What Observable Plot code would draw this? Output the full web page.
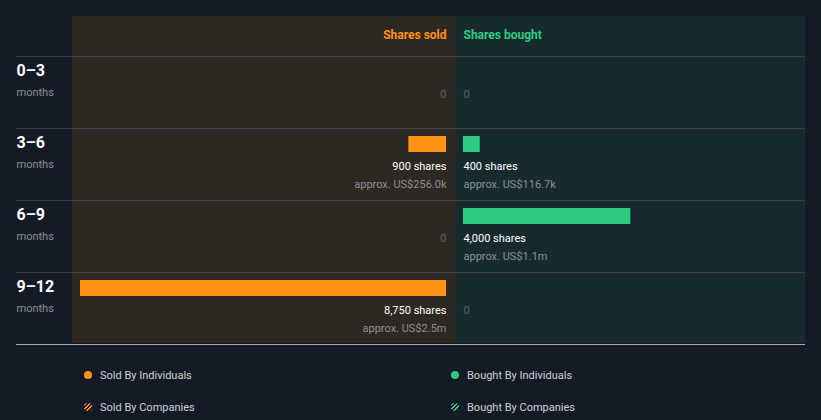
<!DOCTYPE html>
<html>
<head>
<meta charset="utf-8">
<script src="https://cdn.jsdelivr.net/npm/d3@7"></script>
<script src="https://cdn.jsdelivr.net/npm/@observablehq/plot@0.6"></script>
<style>
  html, body { margin: 0; padding: 0; background: #151b26; }
  #wrap { position: relative; width: 821px; height: 420px; overflow: hidden; font-family: Roboto, sans-serif; }
  .panel { position: absolute; top: 16px; height: 327px; }
  #sold { left: 72px; width: 383px; background: #2d2822; }
  #bought { left: 455px; width: 350px; background: #172b2f; }
  #chart { position: absolute; left: 0; top: 0; }
  #chart svg { background: transparent; }
  .leg { position: absolute; display: flex; align-items: center; font-size: 11px; color: #cfd2d6; white-space: nowrap; }
  .dot { width: 8px; height: 8px; border-radius: 50%; margin-right: 8px; }
</style>
</head>
<body>
<div id="wrap">
  <div class="panel" id="sold"></div>
  <div class="panel" id="bought"></div>
  <div id="chart"></div>
  <div id="legend"></div>
</div>
<script>
const rows = ["0–3", "3–6", "6–9", "9–12"];
const rowUnit = "months";
const sharesSold = [0, 900, 0, 8750];
const sharesBought = [0, 400, 4000, 0];
const valueSold = ["", "US$256.0k", "", "US$2.5m"];
const valueBought = ["", "US$116.7k", "US$1.1m", ""];
const headers = ["Shares sold", "Shares bought"];
const legendItems = ["Sold By Individuals", "Bought By Individuals", "Sold By Companies", "Bought By Companies"];

const ORANGE = "#ff9214";
const GREEN = "#2ecc82";
const fmt = d3.format(",");

const data = rows.map((r, i) => ({
  row: r, sold: sharesSold[i], bought: sharesBought[i],
  vs: valueSold[i], vb: valueBought[i]
}));

const center = 454.5, half = 8.5, k = 366 / 8750;
const gap = half;

const plot = Plot.plot({
  width: 821,
  height: 360,
  marginTop: 56,
  marginBottom: 16,
  marginLeft: 16,
  marginRight: 16,
  style: { background: "transparent", fontFamily: "Roboto, sans-serif" },
  x: { type: "linear", domain: [-10000, 10000], range: [center - 10000 * k, center + 10000 * k], axis: null },
  y: { type: "band", domain: rows, range: [56, 344], padding: 0, axis: null },
  marks: [
    Plot.ruleY(rows, { y: d => d, dy: -36, stroke: "#3b4046", strokeWidth: 1 }),
    Plot.ruleY([rows[rows.length - 1]], { y: d => d, dy: 36, stroke: "#a3a7ab", strokeWidth: 1 }),
    // headers
    Plot.text([headers[0]], { x: () => 0, frameAnchor: "top", lineAnchor: "middle", dx: -gap, dy: -21, text: d => d, textAnchor: "end", fill: ORANGE, fontWeight: "bold", fontSize: 12 }),
    Plot.text([headers[1]], { x: () => 0, frameAnchor: "top", lineAnchor: "middle", dx: gap, dy: -21, text: d => d, textAnchor: "start", fill: GREEN, fontWeight: "bold", fontSize: 12 }),
    // row labels
    Plot.text(data, { y: "row", frameAnchor: "left", text: "row", textAnchor: "start", dy: -22, fill: "#ffffff", fontWeight: "bold", fontSize: 16 }),
    Plot.text(data, { y: "row", frameAnchor: "left", text: () => rowUnit, textAnchor: "start", dy: 0, fill: "#8b9097", fontSize: 11 }),
    // bars
    Plot.barX(data.filter(d => d.sold > 0), { y: "row", x1: () => 0, x2: d => -d.sold, dx: -gap, insetTop: 8, insetBottom: 48, fill: ORANGE }),
    Plot.barX(data.filter(d => d.bought > 0), { y: "row", x1: () => 0, x2: d => d.bought, dx: gap, insetTop: 8, insetBottom: 48, fill: GREEN }),
    // sold labels
    Plot.text(data.filter(d => d.sold > 0), { y: "row", x: () => 0, dx: -gap, dy: 2, text: d => fmt(d.sold) + " shares", textAnchor: "end", fill: "#ffffff", fontSize: 11 }),
    Plot.text(data.filter(d => d.sold > 0), { y: "row", x: () => 0, dx: -gap, dy: 20, text: d => "approx. " + d.vs, textAnchor: "end", fill: "#8d9197", fontSize: 11 }),
    Plot.text(data.filter(d => d.sold === 0), { y: "row", x: () => 0, dx: -gap, dy: 2, text: () => "0", textAnchor: "end", fill: "#5f6368", fontSize: 11 }),
    // bought labels
    Plot.text(data.filter(d => d.bought > 0), { y: "row", x: () => 0, dx: gap, dy: 2, text: d => fmt(d.bought) + " shares", textAnchor: "start", fill: "#ffffff", fontSize: 11 }),
    Plot.text(data.filter(d => d.bought > 0), { y: "row", x: () => 0, dx: gap, dy: 20, text: d => "approx. " + d.vb, textAnchor: "start", fill: "#8d9197", fontSize: 11 }),
    Plot.text(data.filter(d => d.bought === 0), { y: "row", x: () => 0, dx: gap, dy: 2, text: () => "0", textAnchor: "start", fill: "#5f6368", fontSize: 11 })
  ]
});
document.getElementById("chart").appendChild(plot);

// legend
const legend = document.getElementById("legend");
const pos = [[84, 375], [451, 375], [84, 407], [451, 407]];
const cols = [ORANGE, GREEN, ORANGE, GREEN];
legendItems.forEach((t, i) => {
  const el = document.createElement("div");
  el.className = "leg";
  el.style.left = pos[i][0] + "px";
  el.style.top = (pos[i][1] - 8) + "px";
  el.style.height = "16px";
  const dot = document.createElement("div");
  dot.className = "dot";
  if (i < 2) dot.style.background = cols[i];
  else dot.style.background = `repeating-linear-gradient(-45deg, ${cols[i]} 0 1.5px, #151b26 1.5px 3px)`;
  el.appendChild(dot);
  const s = document.createElement("span");
  s.textContent = t;
  el.appendChild(s);
  legend.appendChild(el);
});
</script>
</body>
</html>
